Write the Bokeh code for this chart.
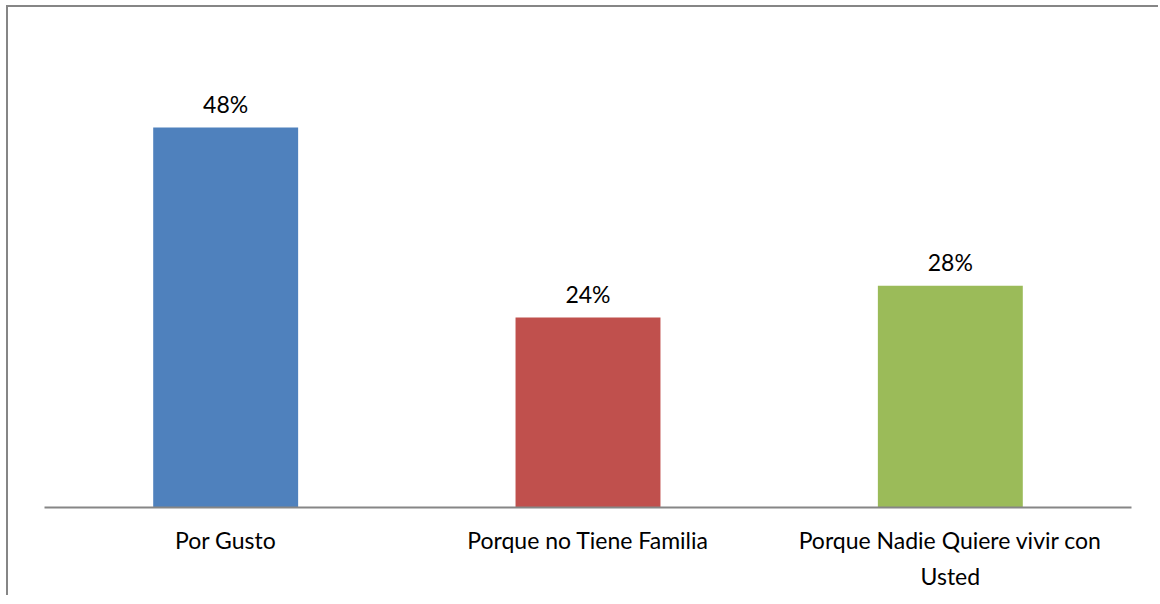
from bokeh.plotting import figure
from bokeh.models import ColumnDataSource, FactorRange, Range1d
from bokeh.core.properties import value
from bokeh.embed import file_html
from bokeh.resources import INLINE

categories = ["Por Gusto", "Porque no Tiene Familia", "Porque Nadie Quiere vivir con\nUsted"]
values = [0.48, 0.24, 0.28]
value_labels = ["48%", "24%", "28%"]
colors = ["#4F81BD", "#C0504D", "#9BBB59"]

src = ColumnDataSource(dict(cat=categories, val=values, lab=value_labels, col=colors))

W, H = 1152, 590
p = figure(width=W, height=H, output_backend="svg", toolbar_location=None,
           x_range=FactorRange(*categories, range_padding=0), y_range=Range1d(0, 0.6),
           min_border_left=36, min_border_right=29, min_border_top=25, min_border_bottom=90)
p.styles = {"border-left": "2px solid #868686", "border-top": "2px solid #868686",
            "margin-left": "6px", "margin-top": "5px"}
p.outline_line_color = None
p.background_fill_color = "white"
p.border_fill_color = "white"
p.xgrid.grid_line_color = None
p.ygrid.grid_line_color = None
p.yaxis.visible = False

p.vbar(x="cat", top="val", width=0.4, bottom=0, fill_color="col", line_color=None, source=src)
p.text(x="cat", y="val", text="lab", source=src, text_align="center", text_baseline="alphabetic",
       y_offset=-24, text_font=value("Lato"), text_font_size="23px", text_color="#000000")

ax = p.xaxis[0]
ax.axis_line_color = "#868686"
ax.axis_line_width = 2
ax.major_tick_line_color = None
ax.minor_tick_line_color = None
ax.major_tick_out = 0
ax.major_tick_in = 0
ax.major_label_standoff = 18
ax.major_label_text_font = "Lato"
ax.major_label_text_font_size = "23px"
ax.major_label_text_color = "#000000"
ax.major_label_text_align = "center"
ax.major_label_text_line_height = 1.3

open("out.html", "w").write(file_html(p, INLINE))
